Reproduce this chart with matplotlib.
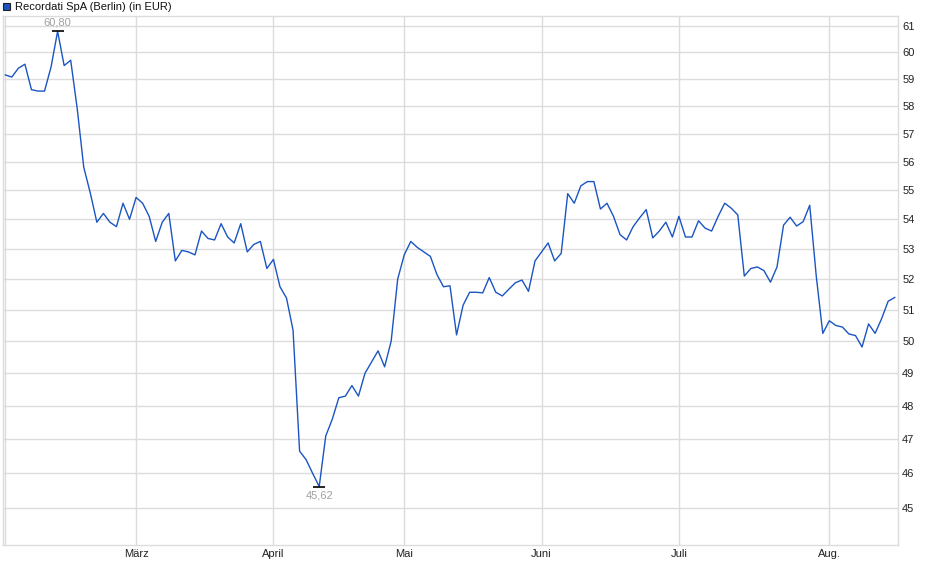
import matplotlib
matplotlib.use("Agg")
import matplotlib.pyplot as plt
from matplotlib.ticker import FixedLocator, NullLocator, FixedFormatter, NullFormatter

# daily closes, Feb - mid Aug (trading-day index)
prices = [
    59.15, 59.07, 59.40, 59.55, 58.60, 58.55, 58.55, 59.45, 60.80, 59.50,
    59.70, 57.90, 55.80, 54.90, 53.90, 54.20, 53.90, 53.75, 54.55, 54.00,
    54.75, 54.55, 54.10, 53.25, 53.90, 54.20, 52.60, 52.95, 52.90, 52.80,
    53.60, 53.35, 53.30, 53.85, 53.40, 53.20, 53.85, 52.90, 53.15, 53.25,
    52.35, 52.65, 51.75, 51.38, 50.35, 46.65, 46.40, 46.00, 45.62, 47.10,
    47.60, 48.25, 48.30, 48.62, 48.30, 49.00, 49.35, 49.70, 49.20, 50.00,
    52.00, 52.80, 53.25, 53.05, 52.90, 52.75, 52.15, 51.75, 51.78, 50.20,
    51.15, 51.57, 51.57, 51.55, 52.05, 51.57, 51.45, 51.67, 51.88, 51.97,
    51.60, 52.60, 52.90, 53.20, 52.60, 52.85, 54.88, 54.55, 55.15, 55.30,
    55.30, 54.35, 54.55, 54.10, 53.48, 53.30, 53.75, 54.05, 54.33, 53.37,
    53.60, 53.90, 53.40, 54.10, 53.40, 53.40, 53.95, 53.70, 53.60, 54.10,
    54.55, 54.38, 54.15, 52.10, 52.35, 52.40, 52.28, 51.90, 52.40, 53.80,
    54.07, 53.77, 53.92, 54.48, 52.10, 50.25, 50.65, 50.50, 50.45, 50.23,
    50.18, 49.82, 50.55, 50.25, 50.72, 51.28, 51.40,
]
month_idx = [0, 20, 41, 61, 82, 103, 126]
month_labels = ["", "März", "April", "Mai", "Juni", "Juli", "Aug."]
y_ticks = list(range(45, 62))

plt.rcParams['font.family'] = ['Liberation Sans', 'DejaVu Sans']

fig = plt.figure(figsize=(9.4, 5.79), dpi=100)
ax = fig.add_axes([3 / 940, (579 - 545.3) / 579, 895 / 940, 529.3 / 579])

line_color = '#1a55c2'
grid_color = '#dcdcdc'
x = list(range(len(prices)))
ax.plot(x, prices, color=line_color, lw=1.0, zorder=3)

ax.set_yscale('log')
ax.set_ylim(43.96, 61.39)
ax.set_xlim(-0.35, 136.5)

ax.yaxis.set_major_locator(FixedLocator(y_ticks))
ax.yaxis.set_major_formatter(FixedFormatter([str(v) for v in y_ticks]))
ax.yaxis.set_minor_locator(NullLocator())
ax.yaxis.set_minor_formatter(NullFormatter())
ax.yaxis.tick_right()
ax.tick_params(axis='y', length=0, pad=3, labelsize=8, colors='#222222')

ax.set_xticks(month_idx)
ax.set_xticklabels(month_labels)
ax.tick_params(axis='x', length=0, pad=2.5, labelsize=8, labelcolor='#222222')

ax.grid(True, color=grid_color, lw=1.0, zorder=0)
for side in ['top', 'right', 'bottom', 'left']:
    ax.spines[side].set_color(grid_color)
    ax.spines[side].set_linewidth(1.0)

# high / low markers
hi = max(prices)
lo = min(prices)
hi_i = prices.index(hi)
lo_i = prices.index(lo)
ax.plot([hi_i], [hi], marker='_', ms=9, mew=1.2, color='black', zorder=4)
ax.plot([lo_i], [lo], marker='_', ms=9, mew=1.2, color='black', zorder=4)
ax.annotate(f"{hi:.2f}".replace('.', ','), (hi_i, hi), xytext=(0, 3),
            textcoords='offset points', ha='center', va='bottom',
            fontsize=8, color='#a0a0a0')
ax.annotate(f"{lo:.2f}".replace('.', ','), (lo_i, lo), xytext=(0, -3),
            textcoords='offset points', ha='center', va='top',
            fontsize=8, color='#a0a0a0')

# legend box in the top-left corner
fig.patches.append(plt.Rectangle((3 / 940, 1 - 10 / 579), 7 / 940, 7 / 579,
                                 transform=fig.transFigure, facecolor=line_color,
                                 edgecolor='#222222', lw=0.8))
fig.text(15 / 940, 1 - 6.5 / 579, "Recordati SpA (Berlin) (in EUR)",
         fontsize=8, va='center', ha='left', color='#111111')

fig.savefig('out.png', dpi=100)
plt.close(fig)
